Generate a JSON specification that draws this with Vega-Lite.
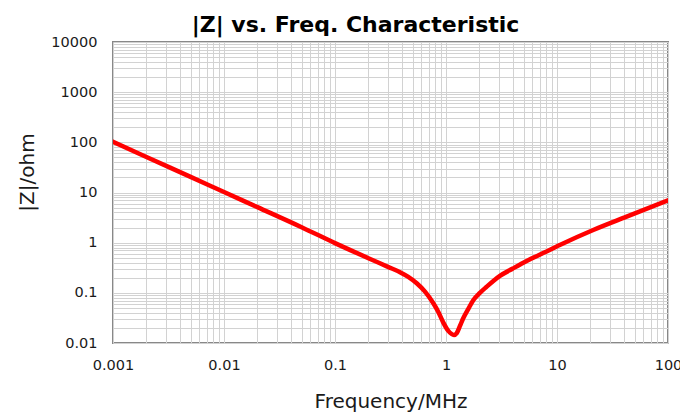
{
  "$schema": "https://vega.github.io/schema/vega-lite/v6.json",
  "width": 555,
  "height": 301,
  "autosize": "none",
  "padding": {"left": 113, "top": 42, "right": 12, "bottom": 71},
  "background": "white",
  "title": {
    "text": "|Z| vs. Freq. Characteristic",
    "fontSize": 22,
    "fontWeight": "bold",
    "font": "DejaVu Sans",
    "anchor": "middle",
    "frame": "group",
    "baseline": "alphabetic",
    "offset": -20,
    "dx": -35,
    "color": "#000000"
  },
  "data": {
    "values": [
      {"f": 0.001, "z": 103},
      {"f": 0.002, "z": 51},
      {"f": 0.005, "z": 20.5},
      {"f": 0.01, "z": 10.2},
      {"f": 0.02, "z": 5.1},
      {"f": 0.05, "z": 2.03},
      {"f": 0.1, "z": 0.98},
      {"f": 0.2, "z": 0.49},
      {"f": 0.3, "z": 0.33},
      {"f": 0.385, "z": 0.258},
      {"f": 0.457, "z": 0.208},
      {"f": 0.545, "z": 0.155},
      {"f": 0.647, "z": 0.1055},
      {"f": 0.769, "z": 0.0619},
      {"f": 0.853, "z": 0.0415},
      {"f": 0.946, "z": 0.0255},
      {"f": 1.049, "z": 0.0174},
      {"f": 1.18, "z": 0.0145},
      {"f": 1.25, "z": 0.0158},
      {"f": 1.336, "z": 0.0219},
      {"f": 1.43, "z": 0.0311},
      {"f": 1.59, "z": 0.048},
      {"f": 1.76, "z": 0.0715},
      {"f": 2.02, "z": 0.1},
      {"f": 2.33, "z": 0.133},
      {"f": 2.67, "z": 0.1725},
      {"f": 3.06, "z": 0.217},
      {"f": 4.0, "z": 0.305},
      {"f": 5.33, "z": 0.432},
      {"f": 7.5, "z": 0.62},
      {"f": 10.6, "z": 0.9},
      {"f": 21.2, "z": 1.79},
      {"f": 42.4, "z": 3.3},
      {"f": 100, "z": 6.94}
    ]
  },
  "mark": {"type": "line", "color": "#ff0000", "strokeWidth": 4.5, "strokeJoin": "round", "strokeCap": "round", "interpolate": "monotone", "clip": true},
  "encoding": {
    "x": {
      "field": "f",
      "type": "quantitative",
      "scale": {"type": "log", "domain": [0.001, 100], "nice": false},
      "axis": {
        "title": "Frequency/MHz",
        "values": [0.001, 0.002, 0.003, 0.004, 0.005, 0.006, 0.007, 0.008, 0.009, 0.01, 0.02, 0.03, 0.04, 0.05, 0.06, 0.07, 0.08, 0.09, 0.1, 0.2, 0.3, 0.4, 0.5, 0.6, 0.7, 0.8, 0.9, 1, 2, 3, 4, 5, 6, 7, 8, 9, 10, 20, 30, 40, 50, 60, 70, 80, 90, 100],
        "labelExpr": "indexof([0.001, 0.01, 0.1, 1, 10, 100], datum.value) >= 0 ? format(datum.value, '~g') : ''",
        "labelOverlap": false,
        "labelFlush": false,
        "labelPadding": 15,
        "labelFontSize": 14.5,
        "labelFont": "DejaVu Sans",
        "labelColor": "#1a1a1a",
        "ticks": false,
        "domain": false,
        "grid": true,
        "gridColor": "#d2d2d2",
        "gridWidth": 1,
        "titleFont": "DejaVu Sans",
        "titleFontSize": 20,
        "titleFontWeight": "normal",
        "titleColor": "#1a1a1a",
        "titleBaseline": "alphabetic",
        "titleY": 64
      }
    },
    "y": {
      "field": "z",
      "type": "quantitative",
      "scale": {"type": "log", "domain": [0.01, 10000], "nice": false},
      "axis": {
        "title": "|Z|/ohm",
        "values": [0.01, 0.02, 0.03, 0.04, 0.05, 0.06, 0.07, 0.08, 0.09, 0.1, 0.2, 0.3, 0.4, 0.5, 0.6, 0.7, 0.8, 0.9, 1, 2, 3, 4, 5, 6, 7, 8, 9, 10, 20, 30, 40, 50, 60, 70, 80, 90, 100, 200, 300, 400, 500, 600, 700, 800, 900, 1000, 2000, 3000, 4000, 5000, 6000, 7000, 8000, 9000, 10000],
        "labelExpr": "indexof([0.01, 0.1, 1, 10, 100, 1000, 10000], datum.value) >= 0 ? format(datum.value, '~g') : ''",
        "labelOverlap": false,
        "labelFlush": false,
        "labelPadding": 16,
        "labelFontSize": 14.5,
        "labelFont": "DejaVu Sans",
        "labelColor": "#1a1a1a",
        "ticks": false,
        "domain": false,
        "grid": true,
        "gridColor": "#d2d2d2",
        "gridWidth": 1,
        "titleFont": "DejaVu Sans",
        "titleFontSize": 20,
        "titleFontWeight": "normal",
        "titleColor": "#1a1a1a",
        "titleAngle": 270,
        "titleAlign": "center",
        "titleBaseline": "alphabetic",
        "titleX": -80,
        "titleY": 130
      }
    }
  },
  "config": {
    "view": {"stroke": "#888888", "strokeWidth": 2}
  }
}
